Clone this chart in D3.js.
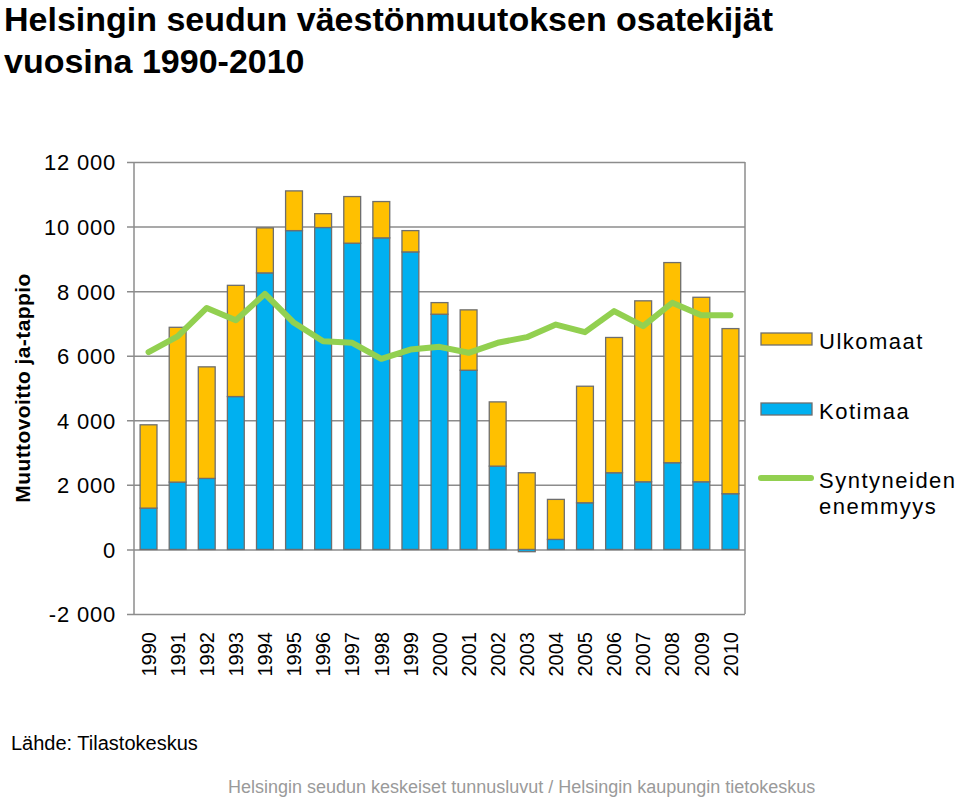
<!DOCTYPE html>
<html>
<head>
<meta charset="utf-8">
<script src="https://cdn.jsdelivr.net/npm/d3@7"></script>
<style>
  html, body { margin: 0; padding: 0; background: #fff; }
  svg, svg text { font-family: "Liberation Sans", Arial, sans-serif; }
  svg { display: block; }
</style>
</head>
<body>
<svg id="chart" width="960" height="797"></svg>
<script>
const years = ["1990","1991","1992","1993","1994","1995","1996","1997","1998","1999","2000",
               "2001","2002","2003","2004","2005","2006","2007","2008","2009","2010"];
const kotimaa  = [1280, 2085, 2200, 4735, 8565, 9875, 9970, 9485, 9650, 9215, 7285,
                  5550, 2580, -70, 310, 1445, 2375, 2095, 2685, 2095, 1725];
const ulkomaat = [2580, 4795, 3455, 3445, 1395, 1230, 430, 1445, 1125, 660, 360,
                  1870, 1990, 2375, 1240, 3610, 4190, 5605, 6200, 5715, 5115];
const syntyneiden = [6110, 6600, 7480, 7100, 7915, 7020, 6450, 6400, 5905, 6190, 6275,
                     6090, 6400, 6575, 6965, 6730, 7380, 6915, 7640, 7255, 7255];
const yTicks = [-2000, 0, 2000, 4000, 6000, 8000, 10000, 12000];
const seriesNames = ["Kotimaa", "Ulkomaat"];
const colors = { Kotimaa: "#00b0f0", Ulkomaat: "#ffc000", Syntyneiden: "#92d050" };

const svg = d3.select("#chart");
const pLeft = 134, pRight = 745, pTop = 162, pBottom = 614;

const x = d3.scaleBand().domain(years).range([pLeft, pRight]).paddingInner(0.42).paddingOuter(0.21);
const y = d3.scaleLinear().domain([-2000, 12000]).range([pBottom, pTop]);

const fmt = v => (v < 0 ? "-" : "") + d3.format(",")(Math.abs(v)).replace(/,/g, " ");

// Gridlines + ticks
const yAxis = d3.axisLeft(y).tickValues(yTicks).tickSize(-(pRight - pLeft)).tickFormat(fmt).tickPadding(18);
const gy = svg.append("g").attr("transform", `translate(${pLeft},0)`).call(yAxis);
gy.attr("font-family", null).attr("font-size", null);
gy.select(".domain").remove();
gy.selectAll(".tick line").attr("x1", -7).attr("stroke", "#8c8c8c").attr("stroke-width", 1.5);
gy.selectAll(".tick text")
  .attr("font-size", 22).attr("letter-spacing", 0.8).attr("fill", "#000").attr("dy", "0.36em");

// frame lines
svg.append("line").attr("x1", pLeft).attr("x2", pLeft).attr("y1", pTop).attr("y2", pBottom)
  .attr("stroke", "#8c8c8c").attr("stroke-width", 1.5);
svg.append("line").attr("x1", pRight).attr("x2", pRight).attr("y1", pTop).attr("y2", pBottom)
  .attr("stroke", "#8c8c8c").attr("stroke-width", 1.5);

// stacked data
const table = years.map((yr, i) => ({ year: yr, Kotimaa: kotimaa[i], Ulkomaat: ulkomaat[i] }));
const stack = d3.stack().keys(seriesNames).offset(d3.stackOffsetDiverging);
const stacked = stack(table);

svg.append("g").selectAll("g").data(stacked).join("g")
  .attr("fill", d => colors[d.key])
  .selectAll("rect").data(d => d).join("rect")
  .attr("x", d => x(d.data.year))
  .attr("width", x.bandwidth())
  .attr("y", d => y(Math.max(d[0], d[1])))
  .attr("height", d => Math.abs(y(d[0]) - y(d[1])))
  .attr("stroke", "#6e6e6e").attr("stroke-width", 1.3);

// line
const line = d3.line().x((d, i) => x(years[i]) + x.bandwidth() / 2).y(d => y(d));
svg.append("path").datum(syntyneiden).attr("d", line)
  .attr("fill", "none").attr("stroke", colors.Syntyneiden).attr("stroke-width", 6)
  .attr("stroke-linejoin", "round").attr("stroke-linecap", "round");

// x labels
const xAxis = d3.axisBottom(x).tickSize(0).tickPadding(0);
const gx = svg.append("g").attr("transform", `translate(0,${pBottom})`).call(xAxis);
gx.attr("font-family", null).attr("font-size", null);
gx.select(".domain").remove();
gx.selectAll(".tick text")
  .attr("font-size", 20).attr("fill", "#000")
  .attr("text-anchor", "end")
  .attr("transform", "translate(0,18) rotate(-90)")
  .attr("x", 0).attr("y", 0).attr("dy", "0.36em");

// Titles
const title = svg.append("g").attr("font-weight", "bold").attr("font-size", 34).attr("fill", "#000");
title.append("text").attr("x", 4).attr("y", 31).text("Helsingin seudun väestönmuutoksen osatekijät");
title.append("text").attr("x", 4).attr("y", 73).text("vuosina 1990-2010");

svg.append("text").attr("transform", "translate(30,388) rotate(-90)")
  .attr("text-anchor", "middle").attr("font-weight", "bold").attr("font-size", 21)
  .attr("letter-spacing", 0.4)
  .text("Muuttovoitto ja-tappio");

// Legend
const lg = svg.append("g").attr("font-size", 22).attr("letter-spacing", 1.5);
lg.append("rect").attr("x", 761).attr("y", 333).attr("width", 51).attr("height", 12)
  .attr("fill", colors.Ulkomaat).attr("stroke", "#6e6e6e").attr("stroke-width", 1.3);
lg.append("text").attr("x", 819).attr("y", 349).text("Ulkomaat");
lg.append("rect").attr("x", 761).attr("y", 403).attr("width", 51).attr("height", 12)
  .attr("fill", colors.Kotimaa).attr("stroke", "#6e6e6e").attr("stroke-width", 1.3);
lg.append("text").attr("x", 819).attr("y", 419).text("Kotimaa");
lg.append("line").attr("x1", 761).attr("x2", 811).attr("y1", 478).attr("y2", 478)
  .attr("stroke", colors.Syntyneiden).attr("stroke-width", 6).attr("stroke-linecap", "round");
lg.append("text").attr("x", 819).attr("y", 488).text("Syntyneiden");
lg.append("text").attr("x", 819).attr("y", 514).text("enemmyys");

// Source & footer
svg.append("text").attr("x", 11).attr("y", 750).attr("font-size", 20).text("Lähde: Tilastokeskus");
svg.append("text").attr("x", 228).attr("y", 793).attr("font-size", 18).attr("fill", "#9a9a9a")
  .text("Helsingin seudun keskeiset tunnusluvut / Helsingin kaupungin tietokeskus");
</script>
</body>
</html>
